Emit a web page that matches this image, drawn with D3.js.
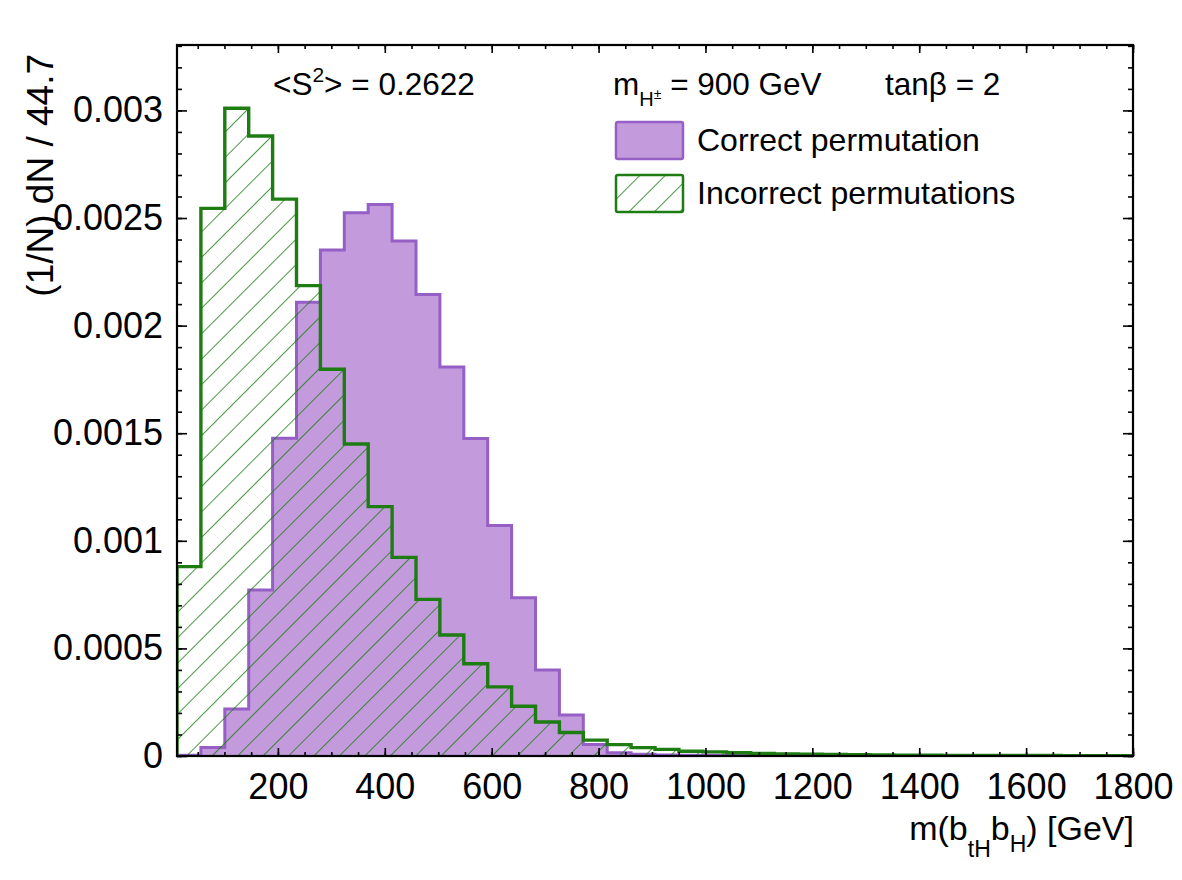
<!DOCTYPE html>
<html>
<head>
<meta charset="utf-8">
<script src="https://cdn.jsdelivr.net/npm/d3@7"></script>
<style>
  body { margin: 0; background: #fff; }
  svg { display: block; font-family: "Liberation Sans", Arial, Helvetica, sans-serif; }
</style>
</head>
<body>
<svg id="chart" width="1182" height="880"></svg>
<script>
const width = 1182
const height = 880
const margin = { top: 45, right: 49, bottom: 124, left: 177 }

// binning: 40 bins of 44.72 GeV from 11.2 to 1800
const binLo = 11.2
const binWidth = 44.72

// (1/N) dN per bin
const correctPerm = [
    0.000003, 0.000039, 0.000218, 0.000771, 0.001476, 0.002108, 0.002351, 0.002525,
    0.002563, 0.002393, 0.002145, 0.001808, 0.001475, 0.001071, 0.000735, 0.000400,
    0.000190, 0.000053, 0.000015, 0.000008, 0.000005, 0.000004, 0.000003, 0.000003,
    0.000002, 0.000002, 0.000001, 0.000001, 0.000001, 0.000001, 0.000001, 0.000001,
    0, 0, 0, 0, 0, 0, 0, 0
]
const incorrectPerm = [
    0.000880, 0.002545, 0.003010, 0.002881, 0.002588, 0.002186, 0.001797, 0.001450,
    0.001159, 0.000923, 0.000728, 0.000562, 0.000429, 0.000321, 0.000231, 0.000158,
    0.000109, 0.000074, 0.000053, 0.000039, 0.000031, 0.000022, 0.000019, 0.000015,
    0.000012, 0.000010, 0.000008, 0.000007, 0.000006, 0.000005, 0.000004, 0.000004,
    0.000003, 0.000003, 0.000002, 0.000002, 0.000002, 0.000001, 0.000001, 0.000001
]

const xMajor = [200, 400, 600, 800, 1000, 1200, 1400, 1600, 1800]
const xMinor = d3.range(50, 1801, 50)
const yMajor = [0, 0.0005, 0.001, 0.0015, 0.002, 0.0025, 0.003]
const yMinor = d3.range(0, 0.00331, 0.0001)
const legendLabels = ["Correct permutation", "Incorrect permutations"]

const purpleFill = "#c39bdc"
const purpleLine = "#955fc6"
const green = "#1d7c12"

const svg = d3.select("#chart")

const x = d3.scaleLinear()
    .domain([binLo, binLo + binWidth * correctPerm.length])
    .range([margin.left, width - margin.right])

const y = d3.scaleLinear()
    .domain([0, 0.003304])
    .range([height - margin.bottom, margin.top])

// hatch pattern for the incorrect permutations
const defs = svg.append("defs")
defs.append("pattern")
    .attr("id", "hatch")
    .attr("patternUnits", "userSpaceOnUse")
    .attr("width", 18)
    .attr("height", 18)
    .attr("patternTransform", "rotate(45)")
    .append("line")
    .attr("x1", 0).attr("y1", 0)
    .attr("x2", 0).attr("y2", 18)
    .attr("stroke", green)
    .attr("stroke-width", 1.6)

defs.append("clipPath")
    .attr("id", "plotclip")
    .append("rect")
    .attr("x", margin.left)
    .attr("y", margin.top)
    .attr("width", width - margin.left - margin.right)
    .attr("height", height - margin.top - margin.bottom)

function stepPath(values) {
    let p = `M${x(binLo)},${y(0)}`
    values.forEach((v, i) => {
        p += `V${y(v)}H${x(binLo + binWidth * (i + 1))}`
    })
    return p + `V${y(0)}`
}

const plot = svg.append("g").attr("clip-path", "url(#plotclip)")

plot.append("path")
    .attr("d", stepPath(correctPerm) + "Z")
    .attr("fill", purpleFill)
plot.append("path")
    .attr("d", stepPath(correctPerm))
    .attr("fill", "none")
    .attr("stroke", purpleLine)
    .attr("stroke-width", 3)

plot.append("path")
    .attr("d", stepPath(incorrectPerm) + "Z")
    .attr("fill", "url(#hatch)")
plot.append("path")
    .attr("d", stepPath(incorrectPerm))
    .attr("fill", "none")
    .attr("stroke", green)
    .attr("stroke-width", 3.4)

// axes, ROOT style: ticks pointing inward on all four sides
const axisStyle = g => g
    .call(g => g.select(".domain").remove())
    .call(g => g.selectAll(".tick line").attr("stroke", "#000").attr("stroke-width", 1.6))
    .call(g => g.selectAll("text").attr("fill", "#000").attr("font-size", 36).attr("font-family", null))

svg.append("g")
    .attr("transform", `translate(0,${height - margin.bottom})`)
    .call(d3.axisBottom(x).tickValues(xMinor).tickSize(-4).tickFormat(""))
    .call(axisStyle)
svg.append("g")
    .attr("transform", `translate(0,${height - margin.bottom})`)
    .call(d3.axisBottom(x).tickValues(xMajor).tickSize(-8).tickPadding(17).tickFormat(d3.format("d")))
    .call(axisStyle)
svg.append("g")
    .attr("transform", `translate(0,${margin.top})`)
    .call(d3.axisTop(x).tickValues(xMinor).tickSize(-4).tickFormat(""))
    .call(axisStyle)
svg.append("g")
    .attr("transform", `translate(0,${margin.top})`)
    .call(d3.axisTop(x).tickValues(xMajor).tickSize(-8).tickFormat(""))
    .call(axisStyle)

svg.append("g")
    .attr("transform", `translate(${margin.left},0)`)
    .call(d3.axisLeft(y).tickValues(yMinor).tickSize(-5).tickFormat(""))
    .call(axisStyle)
svg.append("g")
    .attr("transform", `translate(${margin.left},0)`)
    .call(d3.axisLeft(y).tickValues(yMajor).tickSize(-10).tickPadding(14).tickFormat(d => d === 0 ? "0" : String(d)))
    .call(axisStyle)
svg.append("g")
    .attr("transform", `translate(${width - margin.right},0)`)
    .call(d3.axisRight(y).tickValues(yMinor).tickSize(-5).tickFormat(""))
    .call(axisStyle)
svg.append("g")
    .attr("transform", `translate(${width - margin.right},0)`)
    .call(d3.axisRight(y).tickValues(yMajor).tickSize(-10).tickFormat(""))
    .call(axisStyle)

// frame
svg.append("rect")
    .attr("x", margin.left)
    .attr("y", margin.top)
    .attr("width", width - margin.left - margin.right)
    .attr("height", height - margin.top - margin.bottom)
    .attr("fill", "none")
    .attr("stroke", "#000")
    .attr("stroke-width", 2.2)

// axis titles
const xt = svg.append("text")
    .attr("x", 1134)
    .attr("y", 840)
    .attr("text-anchor", "end")
    .attr("font-size", 34)
xt.append("tspan").text("m(b")
xt.append("tspan").attr("font-size", 23).attr("dy", 17).text("tH")
xt.append("tspan").attr("dy", -17).text("b")
xt.append("tspan").attr("font-size", 23).attr("dy", 12).text("H")
xt.append("tspan").attr("dy", -12).text(") [GeV]")

svg.append("text")
    .attr("transform", "translate(53,54) rotate(-90)")
    .attr("text-anchor", "end")
    .attr("font-size", 37)
    .text("(1/N) dN / 44.7")

// annotations
const s2 = svg.append("text")
    .attr("x", 273)
    .attr("y", 95)
    .attr("font-size", 31.5)
s2.append("tspan").text("<S")
s2.append("tspan").attr("font-size", 21).attr("dy", -13).text("2")
s2.append("tspan").attr("dy", 13).text("> = 0.2622")

const mh = svg.append("text")
    .attr("x", 613)
    .attr("y", 95)
    .attr("font-size", 31.5)
mh.append("tspan").text("m")
mh.append("tspan").attr("font-size", 20).attr("dy", 11).text("H")
mh.append("tspan").attr("font-size", 14).attr("dy", -7).text("±")
mh.append("tspan").attr("dy", -4).text(" = 900 GeV")

svg.append("text")
    .attr("x", 885)
    .attr("y", 95)
    .attr("font-size", 31.5)
    .text("tanβ = 2")

// legend
const legend = svg.append("g")
const legendRows = [
    { label: legendLabels[0], fill: purpleFill, stroke: purpleLine, y: 122 },
    { label: legendLabels[1], fill: "url(#hatch)", stroke: green, y: 175 }
]
legend.selectAll("rect")
    .data(legendRows)
    .join("rect")
    .attr("x", 616)
    .attr("y", d => d.y)
    .attr("width", 67)
    .attr("height", 37)
    .attr("rx", 2)
    .attr("fill", d => d.fill)
    .attr("stroke", d => d.stroke)
    .attr("stroke-width", 2.5)
legend.selectAll("text")
    .data(legendRows)
    .join("text")
    .attr("x", 697)
    .attr("y", d => d.y + 29)
    .attr("font-size", 32)
    .text(d => d.label)
</script>
</body>
</html>
